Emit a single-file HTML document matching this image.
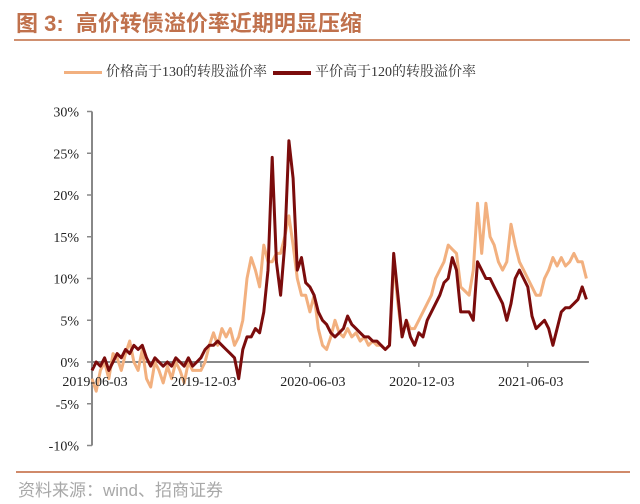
<!DOCTYPE html>
<html><head><meta charset="utf-8"><style>
body{margin:0;background:#fff;width:640px;height:504px;overflow:hidden;position:relative;font-family:"Liberation Serif","Noto Serif CJK SC",serif}
.t{position:absolute;white-space:nowrap}
</style></head><body>
<div class="t" style="left:16px;top:6px;font-size:22px;color:#c0714c;font-family:'Liberation Sans','Noto Sans CJK SC',sans-serif;font-weight:bold">图 3:&nbsp; 高价转债溢价率近期明显压缩</div>
<div style="position:absolute;left:14px;top:39px;width:616px;height:2px;background:#d09070"></div>
<div class="t" style="left:0;top:61px;width:640px;font-size:14px;color:#333">
 <span style="position:absolute;left:64px;top:0"><span style="display:inline-block;width:38px;height:3px;background:#f2b07f;vertical-align:middle;margin-right:4px"></span>价格高于130的转股溢价率</span>
 <span style="position:absolute;left:273px;top:0"><span style="display:inline-block;width:38px;height:4px;background:#7b0c0c;vertical-align:middle;margin-right:4px"></span>平价高于120的转股溢价率</span>
</div>
<svg id="chart" width="640" height="504" style="position:absolute;left:0;top:0"></svg>
<div style="position:absolute;left:16px;top:471px;width:614px;height:2px;background:#d08a6a"></div>
<div class="t" style="left:18px;top:476px;font-size:17px;color:#a8a8a8;font-family:'Liberation Sans','Noto Sans CJK SC',sans-serif">资料来源：wind、招商证券</div>
<script>
const yTicks=[30,25,20,15,10,5,0,-5,-10];
const xTickLabels=["2019-06-03","2019-12-03","2020-06-03","2020-12-03","2021-06-03"];
const xTickWeeks=[0,26,52,78,104];
const series130=[-2,-3.5,-1,0,-2,1,0.5,-1,1,2.5,0,-1,1.5,-2,-3,0,-1,-2.5,-0.5,-2,0,-1,-2.5,0,-1,-1,
-1,0,2,3.5,2,4,3,4,2,3,
5,10,12.5,11,9,
14,12,12,13,13,15,17.5,14,10,8,8,6,8,4,2,1.5,3,5,3.5,3,4,3,3.5,2.5,3,2,2.5,2,2,1.5,2,12,7,3,5,4,4,5,6,7,8,10,11,12,14,13.5,13,9,8.5,8,11,19,13,19,15,14,12,11,12,16.5,14,12,11,10,9,8,8,10,11,12.5,11.5,12.5,11.5,12,13,12,12,10];
const series120=[-1,0,-0.5,0.5,-1,0,1,0.5,1.5,1,2,1.5,2,0.5,-0.5,0.5,0,-0.5,0,-0.5,0.5,0,-0.5,0.5,-0.5,0,
0.5,1.5,2,2,2.5,2,1.5,1,0.5,-2,
1.5,3,3,4,3.5,
6,11,24.5,12,8,14,26.5,22,11,12.5,9.5,9,8,6,5,4.5,3.5,3,3.5,4,5.5,4.5,4,3.5,3,3,2.5,2.5,2,1.5,2,13,8,3,5,3,2,3.5,3,5,6,7,8,9.5,10,12.5,11,6,6,6,5,12,11,10,10,9,8,7,5,7,10,11,10,9,5.5,4,4.5,5,4,2,4,6,6.5,6.5,7,7.5,9,7.5];
const NS="http://www.w3.org/2000/svg";
const svg=document.getElementById('chart');
const x0=92,pxPerWeek=4.19;
const yOf=v=>362-v*8.35;
const xOf=w=>x0+w*pxPerWeek;
function mk(t,a){const e=document.createElementNS(NS,t);for(const k in a)e.setAttribute(k,a[k]);svg.appendChild(e);return e;}
const ya=mk('line',{x1:x0,y1:yOf(30),x2:x0,y2:yOf(-10),stroke:'#888','stroke-width':2});


yTicks.forEach(v=>{
 const tk=mk('line',{x1:x0-5,y1:yOf(v),x2:x0,y2:yOf(v),stroke:'#888','stroke-width':1.5});
 
 
 const tx=mk('text',{x:x0-13,y:yOf(v)+5,'text-anchor':'end','font-size':14,fill:'#222','font-family':'Liberation Serif, serif'});
 tx.textContent=v+'%';
 
 
});
const xa=mk('line',{x1:x0,y1:yOf(0),x2:xOf(118.6),y2:yOf(0),stroke:'#888','stroke-width':2});


function path(arr,color,w,name){
 const d=arr.map((v,i)=>(i?'L':'M')+xOf(i).toFixed(1)+' '+yOf(v).toFixed(1)).join('');
 const p=mk('path',{d:d,fill:'none',stroke:color,'stroke-width':w,'stroke-linejoin':'round'});
 
 
}
path(series130,'#f2b07f',3,'line-price-above-130');
path(series120,'#7b0c0c',3,'line-parity-above-120');
xTickWeeks.forEach((w,i)=>{
 const tk=mk('line',{x1:xOf(w),y1:yOf(0),x2:xOf(w),y2:yOf(0)+5,stroke:'#888','stroke-width':1.5});
 
 
 const tx=mk('text',{x:xOf(w)+3,y:yOf(0)+24,'text-anchor':'middle','font-size':14,fill:'#222','font-family':'Liberation Serif, serif'});
 tx.textContent=xTickLabels[i];
 
 
});
</script>
</body></html>
